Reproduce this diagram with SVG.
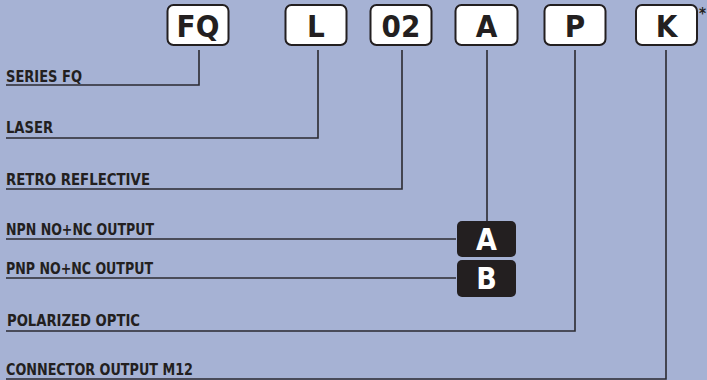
<svg xmlns="http://www.w3.org/2000/svg" width="707" height="380" viewBox="0 0 707 380">
<style>
.box{fill:#ffffff;stroke:#231f20;stroke-width:2}
.code{font-family:"DejaVu Sans Condensed","DejaVu Sans","Liberation Sans",sans-serif;font-weight:bold;font-size:31px;fill:#231f20;text-anchor:middle}
.blk{fill:#231f20}
.wcode{font-family:"DejaVu Sans Condensed","DejaVu Sans","Liberation Sans",sans-serif;font-weight:bold;font-size:30px;fill:#ffffff;text-anchor:middle}
.lbl{font-family:"DejaVu Sans Condensed","DejaVu Sans","Liberation Sans",sans-serif;font-weight:bold;font-size:15px;fill:#231f20}
.ln{fill:none;stroke:#2b2a30;stroke-width:1.6}
</style>
<rect width="707" height="380" fill="#a6b2d4"/>
<g id="connectors">
<polyline class="ln" points="199,50 199,85 6,85"/>
<polyline class="ln" points="318,50 318,138 6,138"/>
<polyline class="ln" points="402,50 402,189 6,189"/>
<polyline class="ln" points="487,50 487,221"/>
<polyline class="ln" points="6,239 456,239"/>
<polyline class="ln" points="6,278 456,278"/>
<polyline class="ln" points="575,50 575,331 6,331"/>
<polyline class="ln" points="666,50 666,379 6,379"/>
</g>
<g id="code-FQ"><rect class="box" x="167.5" y="5" width="61" height="40" rx="6"/><text class="code" x="198" y="36.5">FQ</text></g>
<g id="code-L"><rect class="box" x="285.5" y="5" width="61" height="40" rx="6"/><text class="code" x="316" y="36.5">L</text></g>
<g id="code-02"><rect class="box" x="370.5" y="5" width="61" height="40" rx="6"/><text class="code" x="401" y="36.5">02</text></g>
<g id="code-A"><rect class="box" x="455.5" y="5" width="62" height="40" rx="6"/><text class="code" x="486.5" y="36.5">A</text></g>
<g id="code-P"><rect class="box" x="544.5" y="5" width="61" height="40" rx="6"/><text class="code" x="575" y="36.5">P</text></g>
<g id="code-K"><rect class="box" x="636" y="5" width="61" height="40" rx="6"/><text class="code" x="666.5" y="36.5">K</text></g>
<g id="asterisk"><text class="lbl" x="699" y="19" font-size="14">*</text></g>
<g id="opt-A"><rect class="blk" x="457" y="221" width="59" height="36" rx="5"/><text class="wcode" x="486.5" y="250">A</text></g>
<g id="opt-B"><rect class="blk" x="457" y="260" width="59" height="37" rx="5"/><text class="wcode" x="486.5" y="289">B</text></g>
<g id="labels">
<text class="lbl" x="6" y="82" textLength="76" lengthAdjust="spacingAndGlyphs">SERIES FQ</text>
<text class="lbl" x="6" y="133" textLength="47" lengthAdjust="spacingAndGlyphs">LASER</text>
<text class="lbl" x="6" y="185" textLength="144" lengthAdjust="spacingAndGlyphs">RETRO REFLECTIVE</text>
<text class="lbl" x="6" y="235" textLength="148" lengthAdjust="spacingAndGlyphs">NPN NO+NC OUTPUT</text>
<text class="lbl" x="6" y="274" textLength="147" lengthAdjust="spacingAndGlyphs">PNP NO+NC OUTPUT</text>
<text class="lbl" x="7" y="326" textLength="133" lengthAdjust="spacingAndGlyphs">POLARIZED OPTIC</text>
<text class="lbl" x="6" y="375" textLength="187" lengthAdjust="spacingAndGlyphs">CONNECTOR OUTPUT M12</text>
</g>
</svg>
